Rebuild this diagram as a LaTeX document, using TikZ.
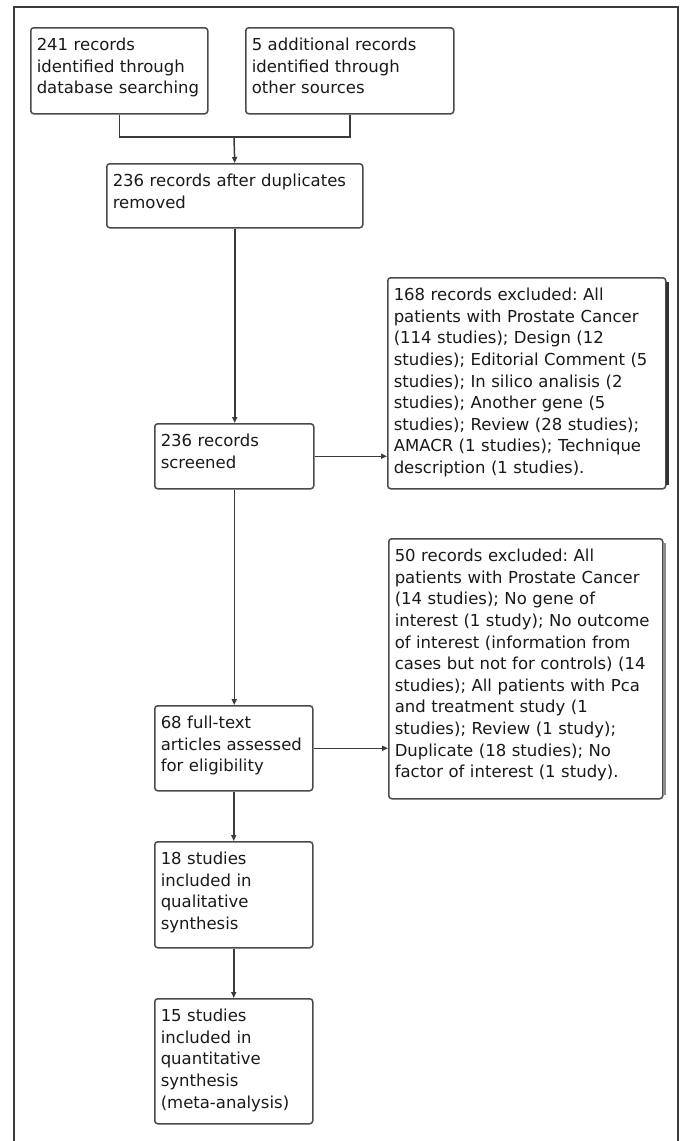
\documentclass[tikz,border=0pt]{standalone}
\usepackage{fontspec}
\newfontfamily\flowfont{DejaVu Sans}
\usetikzlibrary{arrows.meta}
\definecolor{linegray}{HTML}{3A3A3A}
\definecolor{boxgray}{HTML}{4A4A4A}
\frenchspacing
\begin{document}
\begin{tikzpicture}[x=1bp,y=-1bp,
  box/.style={draw=boxgray, line width=1.5bp, rounded corners=3bp, anchor=north west,
    align=left, inner xsep=6bp, inner ysep=0pt, text height=23bp, text=black!90,
    font=\flowfont\fontsize{16.5bp}{21.6bp}\selectfont},
  flow/.style={draw=linegray, line width=1.5bp},
  arr/.style={flow, -{Triangle[length=6bp,width=5bp]}}]
\useasboundingbox (0,0) rectangle (681,1141);

% Frame
\draw[linegray, line width=2bp] (14,7) rectangle (678,1160);

% Identification
\node[box, text width=165bp, text depth=63bp] (db) at (30,27)
  {241 records\\identified through\\database searching};
\node[box, text width=196bp, text depth=63bp] (other) at (245,27)
  {5 additional records\\identified through\\other sources};
\node[box, text width=244bp, text depth=41bp] (dedup) at (106,163)
  {236 records after duplicates\\removed};

% Screening
\node[box, text width=147bp, text depth=42bp] (screened) at (154,423)
  {236 records\\screened};
\node[box, text width=266bp, text depth=188bp] (excl1) at (387,277)
  {168 records excluded: All\\patients with Prostate Cancer\\(114 studies); Design (12\\studies); Editorial Comment (5\\studies); In silico analisis (2\\studies); Another gene (5\\studies); Review (28 studies);\\AMACR (1 studies); Technique\\description (1 studies).};

% Eligibility
\node[box, text width=146bp, text depth=62bp] (fulltext) at (154,705)
  {68 full-text\\articles assessed\\for eligibility};
\node[box, text width=262bp, text depth=237bp] (excl2) at (388,538)
  {50 records excluded: All\\patients with Prostate Cancer\\(14 studies); No gene of\\interest (1 study); No outcome\\of interest (information from\\cases but not for controls) (14\\studies); All patients with Pca\\and treatment study (1\\studies); Review (1 study);\\Duplicate (18 studies); No\\factor of interest (1 study).};

% Included
\node[box, text width=146bp, text depth=83bp] (qual) at (154,841)
  {18 studies\\included in\\qualitative\\synthesis};
\node[box, text width=146bp, text depth=102bp] (quant) at (154,998)
  {15 studies\\included in\\quantitative\\synthesis\\(meta-analysis)};

% Shadows on the exclusion boxes
\draw[line width=3bp, black!80] ([xshift=1bp,yshift=-5bp]excl1.north east) -- ([xshift=1bp,yshift=5bp]excl1.south east);
\draw[line width=3bp, black!45] ([xshift=1bp,yshift=-5bp]excl2.north east) -- ([xshift=1bp,yshift=5bp]excl2.south east);

% Connectors
\coordinate (merge) at (234,137);
\draw[flow] (db.south) |- (merge) -| (other.south);
\draw[arr] (merge) -- (dedup.north);
\draw[arr] (dedup.south) -- (dedup.south |- screened.north);
\draw[arr] (screened.east) -- (screened.east -| excl1.west);
\draw[arr] (screened.south) -- (screened.south |- fulltext.north);
\draw[arr] (fulltext.east) -- (fulltext.east -| excl2.west);
\draw[arr] (fulltext.south) -- (fulltext.south |- qual.north);
\draw[arr] (qual.south) -- (qual.south |- quant.north);
\end{tikzpicture}
\end{document}
